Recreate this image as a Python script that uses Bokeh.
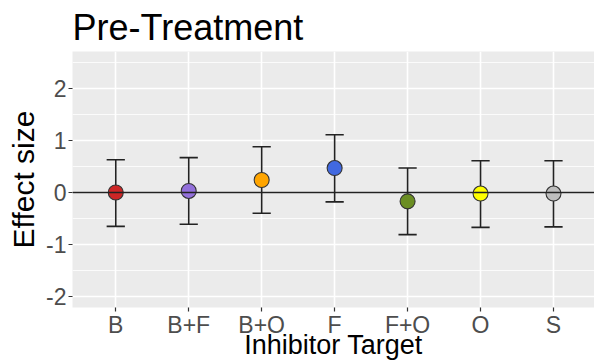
from bokeh.plotting import figure
from bokeh.models import FixedTicker, Span, ColumnDataSource
from bokeh.embed import file_html
from bokeh.resources import INLINE

targets = ["B", "B+F", "B+O", "F", "F+O", "O", "S"]
effect = [0.0, 0.03, 0.24, 0.47, -0.17, -0.02, -0.02]
lower = [-0.65, -0.61, -0.40, -0.18, -0.81, -0.67, -0.66]
upper = [0.63, 0.67, 0.88, 1.11, 0.47, 0.61, 0.61]
colors = ["#CD2626", "#9370DB", "#FFA500", "#4169E1", "#6B8E23", "#FFFF00", "#BEBEBE"]
y_ticks = [-2, -1, 0, 1, 2]
y_tick_labels = ["-2", "-1", "0", "1", "2"]
y_minor = [-1.5, -0.5, 0.5, 1.5, 2.5]

pos = list(range(1, len(targets) + 1))
cap = 0.125
src = ColumnDataSource(dict(
    x=pos, y=effect, lo=lower, hi=upper, c=colors,
    x0=[v - cap for v in pos], x1=[v + cap for v in pos],
))

FONT = "Liberation Sans"
W, H = 594, 364
x_start, x_end = 0.407, 7.562
y_start, y_end = -2.21, 2.71

p = figure(width=W, height=H, output_backend="svg", toolbar_location=None,
           x_range=(x_start, x_end), y_range=(y_start, y_end),
           min_border_left=72, min_border_right=0, min_border_top=49, min_border_bottom=57)
p.background_fill_color = "#EBEBEB"
p.border_fill_color = "white"
p.outline_line_color = None

p.title.text = "Pre-Treatment"
p.title.text_font = FONT
p.title.text_font_size = "36px"
p.title.text_font_style = "normal"
p.title.text_color = "black"
p.title.align = "left"
p.title.standoff = 8
p.title.offset = 0

# grid
p.xgrid.ticker = FixedTicker(ticks=pos)
p.xgrid.grid_line_color = "white"
p.xgrid.grid_line_width = 1.6
p.ygrid.ticker = FixedTicker(ticks=y_ticks, minor_ticks=y_minor)
p.ygrid.grid_line_color = "white"
p.ygrid.grid_line_width = 1.6
p.ygrid.minor_grid_line_color = "white"
p.ygrid.minor_grid_line_width = 0.8

# axes
p.xaxis.ticker = FixedTicker(ticks=pos)
p.xaxis.major_label_overrides = {v: t for v, t in zip(pos, targets)}
p.yaxis.ticker = FixedTicker(ticks=y_ticks, minor_ticks=[])
p.yaxis.major_label_overrides = {v: t for v, t in zip(y_ticks, y_tick_labels)}
for ax in (p.xaxis[0], p.yaxis[0]):
    ax.axis_line_color = None
    ax.major_tick_line_color = "#333333"
    ax.major_tick_line_width = 1.2
    ax.major_tick_out = 4
    ax.major_tick_in = 0
    ax.minor_tick_line_color = None
    ax.major_label_text_font = FONT
    ax.major_label_text_font_size = "23px"
    ax.major_label_text_color = "#4D4D4D"
    ax.axis_label_text_font = FONT
    ax.axis_label_text_font_style = "normal"
    ax.axis_label_text_color = "black"

p.xaxis.major_label_standoff = 0
p.xaxis.axis_label = "Inhibitor Target"
p.xaxis.axis_label_text_font_size = "27px"
p.xaxis.axis_label_standoff = -11

p.yaxis.major_label_standoff = 2
p.yaxis.axis_label = "Effect size"
p.yaxis.axis_label_text_font_size = "30px"
p.yaxis.axis_label_standoff = 3

# zero line
p.add_layout(Span(location=0, dimension="width", line_color="#222222", line_width=1.4))

# error bars
p.segment(x0="x", y0="lo", x1="x", y1="hi", source=src, line_color="#222222", line_width=1.6)
p.segment(x0="x0", y0="hi", x1="x1", y1="hi", source=src, line_color="#222222", line_width=1.6)
p.segment(x0="x0", y0="lo", x1="x1", y1="lo", source=src, line_color="#222222", line_width=1.6)

# points
p.scatter(x="x", y="y", source=src, size=15, fill_color="c", line_color="#333333", line_width=1.1)

open("out.html", "w").write(file_html(p, INLINE))
